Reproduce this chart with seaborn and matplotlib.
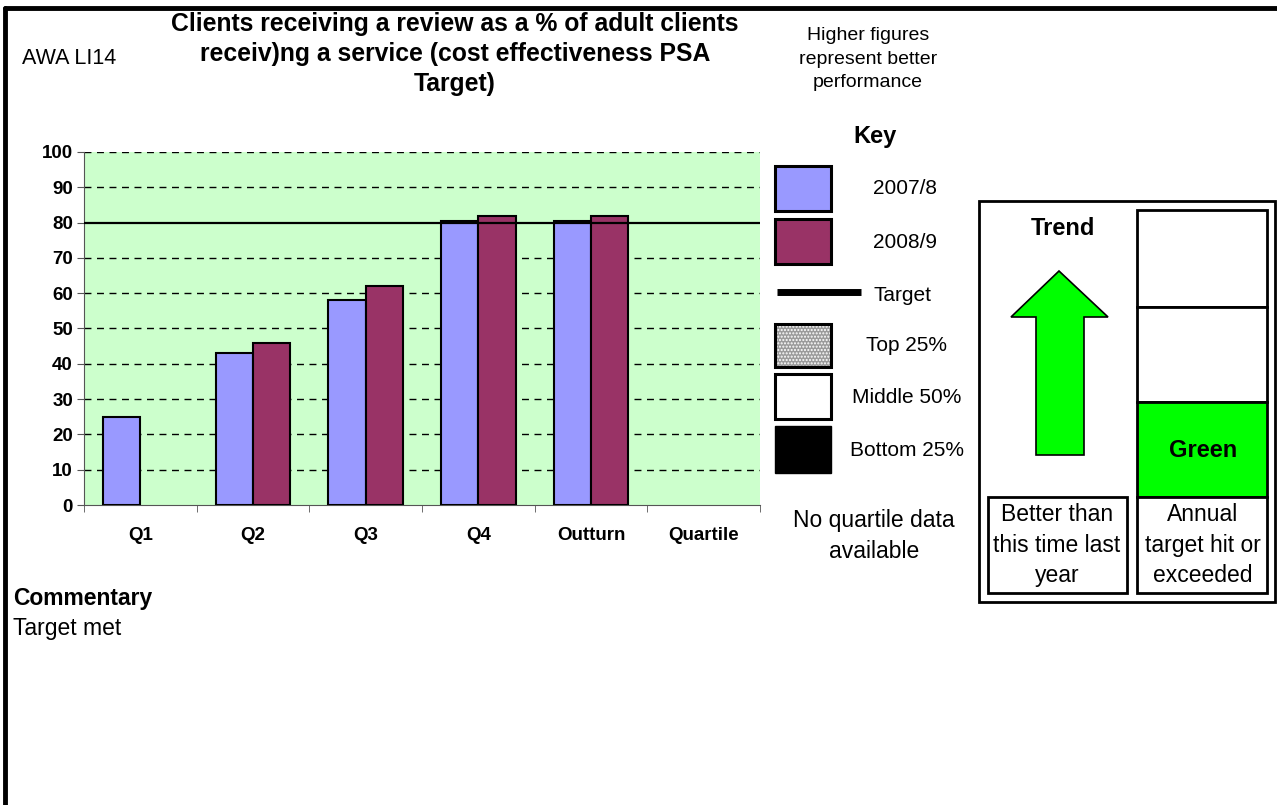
import numpy as np
import pandas as pd
import seaborn as sns
import matplotlib.pyplot as plt
from matplotlib.patches import Rectangle, Polygon

# Chart data
categories = ['Q1', 'Q2', 'Q3', 'Q4', 'Outturn', 'Quartile']
years = ['2007/8', '2008/9']
values_0708 = [25, 43, 58, 80.5, 80.5, np.nan]
values_0809 = [np.nan, 46, 62, 82, 82, np.nan]
target = 80
year_colors = ['#9999FF', '#993366']

df = pd.DataFrame({
    'Period': categories * 2,
    'Year': [years[0]] * len(categories) + [years[1]] * len(categories),
    'Value': values_0708 + values_0809,
})

sns.set_style('white')
plt.rcParams['font.family'] = ['Liberation Sans', 'DejaVu Sans']
plt.rcParams['text.color'] = 'black'
plt.rcParams['xtick.color'] = 'black'
plt.rcParams['ytick.color'] = 'black'

W, H = 1277, 805
fig = plt.figure(figsize=(W / 100, H / 100), dpi=100)

def px_axes(x0, y0, x1, y1):
    return [x0 / W, 1 - y1 / H, (x1 - x0) / W, (y1 - y0) / H]

# Main bar chart
ax = fig.add_axes(px_axes(84, 152, 760, 505))
ax.set_facecolor('#CCFFCC')
sns.barplot(data=df, x='Period', y='Value', hue='Year', order=categories,
            hue_order=years, palette=year_colors, width=0.66,
            edgecolor='black', linewidth=1.5, saturation=1, ax=ax,
            legend=False, zorder=3)
ax.set_ylim(0, 100)
ax.set_xlim(-0.5, len(categories) - 0.5)
ax.set_yticks(range(0, 101, 10))
for y in range(10, 101, 10):
    if y != target:
        ax.axhline(y, color='black', lw=1, ls=(0, (5, 4)), zorder=1)
ax.axhline(target, color='black', lw=1.6, zorder=4)
ax.set_xlabel('')
ax.set_ylabel('')
for side in ['top', 'right']:
    ax.spines[side].set_visible(False)
ax.spines['left'].set_color('#555555')
ax.spines['bottom'].set_color('#555555')
ax.set_xticks(np.arange(-0.5, len(categories), 1), minor=True)
ax.tick_params(axis='x', which='major', length=0, pad=16)
ax.tick_params(axis='x', which='minor', length=5, direction='out', color='#555555')
ax.tick_params(axis='y', length=5, direction='out', color='#555555', pad=3)
ax.yaxis.set_ticks_position('left')
ax.xaxis.set_ticks_position('bottom')
for lab in ax.get_xticklabels() + ax.get_yticklabels():
    lab.set_fontweight('bold')
    lab.set_fontsize(13.5)

# Overlay in pixel coordinates for the surrounding report elements
ov = fig.add_axes([0, 0, 1, 1], zorder=-1)
ov.set_xlim(0, W)
ov.set_ylim(H, 0)
ov.axis('off')

ov.plot([5, W], [8, 8], color='black', lw=3.5)
ov.plot([5, 5], [8, H], color='black', lw=3.5)

ov.text(22, 59, 'AWA LI14', fontsize=15.5, va='center', ha='left')
ov.text(455, 54, 'Clients receiving a review as a % of adult clients\n'
        'receiv)ng a service (cost effectiveness PSA\nTarget)',
        fontsize=17.8, fontweight='bold', ha='center', va='center',
        linespacing=1.33)
ov.text(868, 59, 'Higher figures\nrepresent better\nperformance',
        fontsize=14, ha='center', va='center', linespacing=1.5)

# Key
ov.text(875, 137, 'Key', fontsize=17, fontweight='bold', ha='center', va='center')
ov.add_patch(Rectangle((775, 166), 56, 45, facecolor=year_colors[0], edgecolor='black', lw=2.2))
ov.text(905, 188, years[0], fontsize=15, ha='center', va='center')
ov.add_patch(Rectangle((775, 219), 56, 45, facecolor=year_colors[1], edgecolor='black', lw=2.2))
ov.text(905, 242, years[1], fontsize=15, ha='center', va='center')
ov.plot([777, 861], [292, 292], color='black', lw=5, solid_capstyle='butt')
ov.text(873, 295, 'Target', fontsize=15, ha='left', va='center')
ov.add_patch(Rectangle((775, 324), 56, 43, facecolor='#9a9a9a', edgecolor='white',
                       hatch='.....', lw=0))
ov.add_patch(Rectangle((775, 324), 56, 43, facecolor='none', edgecolor='black', lw=2.2))
ov.text(907, 345, 'Top 25%', fontsize=15, ha='center', va='center')
ov.add_patch(Rectangle((775, 374), 56, 45, facecolor='white', edgecolor='black', lw=2.2))
ov.text(907, 397, 'Middle 50%', fontsize=15, ha='center', va='center')
ov.add_patch(Rectangle((775, 426), 56, 47, facecolor='black', edgecolor='black', lw=1))
ov.text(907, 450, 'Bottom 25%', fontsize=15, ha='center', va='center')
ov.text(874, 536, 'No quartile data\navailable', fontsize=16.5, ha='center',
        va='center', linespacing=1.39)

# Trend / RAG panel
ov.add_patch(Rectangle((979, 201), 296, 401, facecolor='white', edgecolor='black', lw=2))
ov.text(1063, 228, 'Trend', fontsize=17, fontweight='bold', ha='center', va='center')
arrow = [(1059, 271), (1108, 317), (1084, 317), (1084, 455),
         (1036, 455), (1036, 317), (1011, 317)]
ov.add_patch(Polygon(arrow, closed=True, facecolor='#00FF00', edgecolor='black', lw=1.2))
ov.add_patch(Rectangle((988, 497), 139, 96, facecolor='white', edgecolor='black', lw=2))
ov.text(1057, 545, 'Better than\nthis time last\nyear', fontsize=16.5,
        ha='center', va='center', linespacing=1.42)
ov.add_patch(Rectangle((1137, 210), 130, 97, facecolor='white', edgecolor='black', lw=2))
ov.add_patch(Rectangle((1137, 307), 130, 95, facecolor='white', edgecolor='black', lw=2))
ov.add_patch(Rectangle((1137, 402), 130, 95, facecolor='#00FF00', edgecolor='black', lw=2))
ov.text(1203, 450, 'Green', fontsize=17, fontweight='bold', ha='center', va='center')
ov.add_patch(Rectangle((1137, 497), 130, 96, facecolor='white', edgecolor='black', lw=2))
ov.text(1203, 545, 'Annual\ntarget hit or\nexceeded', fontsize=16.5,
        ha='center', va='center', linespacing=1.42)

# Commentary
ov.text(13, 598, 'Commentary', fontsize=16.5, fontweight='bold', ha='left', va='center')
ov.text(13, 628, 'Target met', fontsize=16.5, ha='left', va='center')

fig.savefig('out.png', dpi=100)
